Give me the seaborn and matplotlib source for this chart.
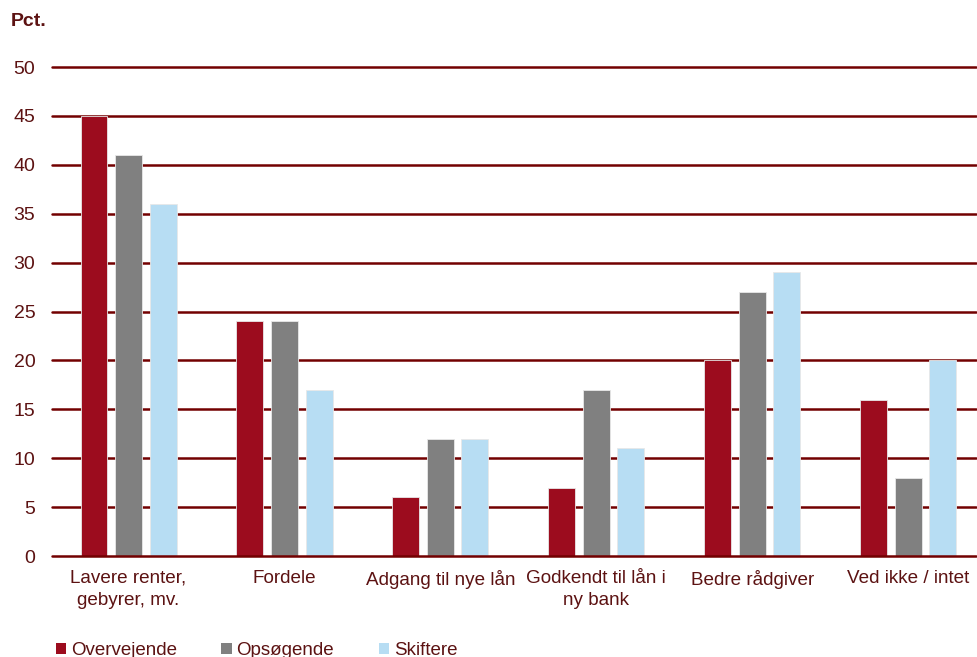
import matplotlib
matplotlib.use("Agg")
import matplotlib.pyplot as plt
from matplotlib.patches import Patch
import seaborn as sns
import pandas as pd

categories = ["Lavere renter,\ngebyrer, mv.", "Fordele", "Adgang til nye lån",
              "Godkendt til lån i\nny bank", "Bedre rådgiver", "Ved ikke / intet"]
series = ["Overvejende", "Opsøgende", "Skiftere"]
overvejende = [45, 24, 6, 7, 20, 16]
opsoegende = [41, 24, 12, 17, 27, 8]
skiftere = [36, 17, 12, 11, 29, 20]
yticks = [0, 5, 10, 15, 20, 25, 30, 35, 40, 45, 50]

colors = ["#9C0C1E", "#808080", "#B7DDF3"]
text_color = "#5C1212"
grid_color = "#720000"

sns.set_theme(style="white")
plt.rcParams["font.family"] = ["Liberation Sans", "DejaVu Sans"]

df = pd.DataFrame({
    "Kategori": categories * 3,
    "Serie": [series[0]] * 6 + [series[1]] * 6 + [series[2]] * 6,
    "Pct": overvejende + opsoegende + skiftere,
})

fig = plt.figure(figsize=(9.78, 6.57), dpi=100)
ax = fig.add_axes([0.0532, 0.1537, 0.9448, 0.7443])

sns.barplot(data=df, x="Kategori", y="Pct", hue="Serie", order=categories,
            hue_order=series, palette=colors, saturation=1, width=0.665,
            gap=0.22, edgecolor="#E8E8E8", linewidth=0.6, ax=ax,
            legend=False, zorder=3)

ax.set_ylim(0, 50)
ax.set_xlim(-0.491, 5.436)
ax.set_yticks(yticks)
ax.set_yticklabels([str(t) for t in yticks])
for t in yticks:
    # the baseline sits on top of the bars, the other lines behind them
    ax.axhline(t, color=grid_color, linewidth=1.8, clip_on=False,
               zorder=4 if t == 0 else 1)

ax.set_xlabel("")
ax.set_ylabel("")
for side in ["top", "right", "left", "bottom"]:
    ax.spines[side].set_visible(False)
ax.tick_params(axis="both", length=0, colors=text_color)
ax.tick_params(axis="y", pad=12, labelsize=14)
ax.tick_params(axis="x", pad=10, labelsize=13.6)
for lbl in ax.get_xticklabels() + ax.get_yticklabels():
    lbl.set_color(text_color)
    lbl.set_linespacing(1.4)

fig.text(0.011, 0.967, "Pct.", fontsize=14, fontweight="bold",
         color=text_color, ha="left", va="center")

handles = [Patch(facecolor=c, edgecolor="none") for c in colors]
fig.legend(handles, series, loc="center left", bbox_to_anchor=(0.057, 0.010),
           ncol=3, frameon=False, fontsize=13.5, handlelength=0.55,
           handleheight=0.55, handletextpad=0.25, columnspacing=2.38,
           labelcolor=text_color, borderpad=0, borderaxespad=0)

fig.savefig("out.png", dpi=100)
